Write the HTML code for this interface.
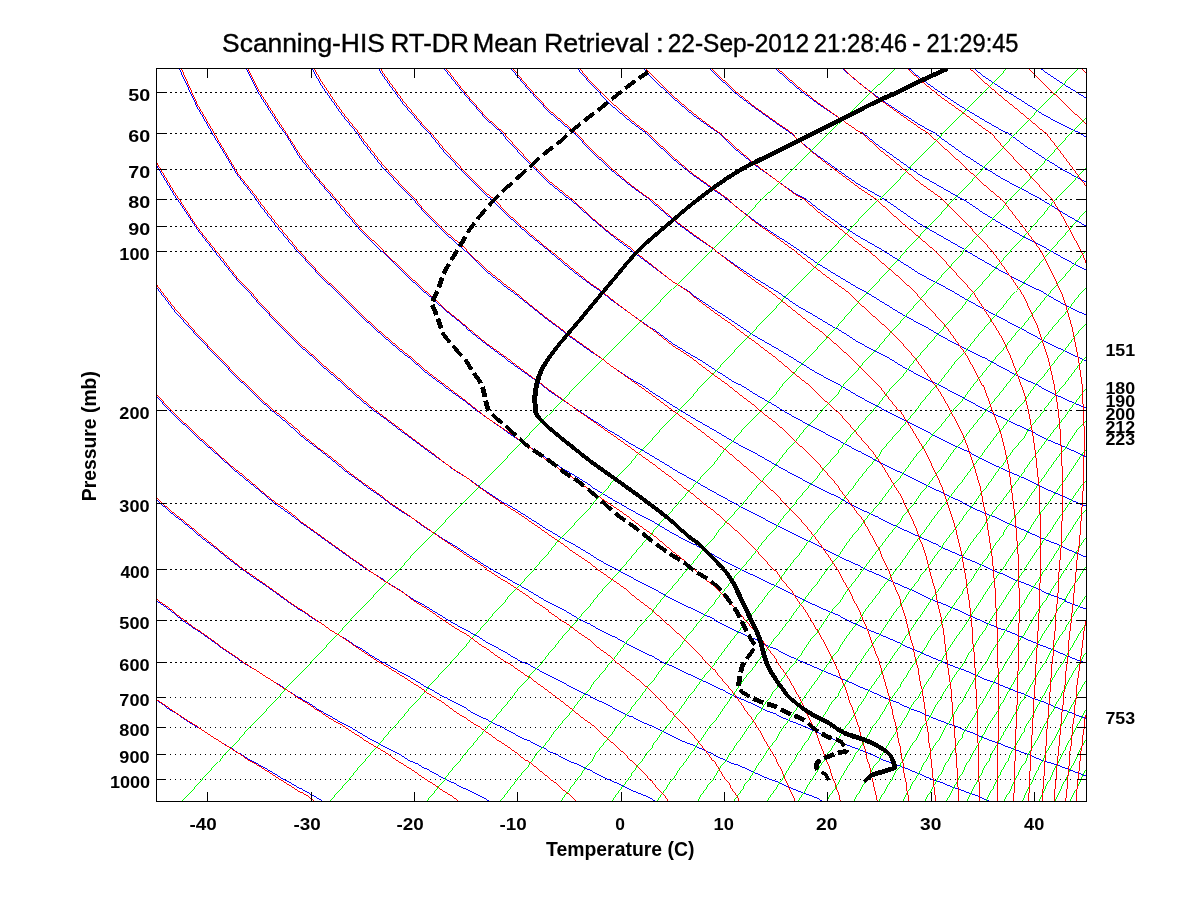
<!DOCTYPE html>
<html lang="en"><head><meta charset="utf-8"><title>Scanning-HIS RT-DR Mean Retrieval</title>
<style>html,body{margin:0;padding:0;background:#fff}svg{display:block}text{font-family:"Liberation Sans",Helvetica,Arial,sans-serif;fill:#000}.b{font-weight:bold}.tk{font-weight:bold;font-size:17px}.lb{font-weight:bold;font-size:19.5px}</style></head><body>
<svg width="1200" height="900" viewBox="0 0 1200 900">
<rect width="1200" height="900" fill="#fff"/>
<defs><clipPath id="c"><rect x="156.0" y="68.0" width="931.0" height="734.0"/></clipPath></defs>
<path d="M170 92.5H1075M170 133.5H1075M170 169.5H1075M170 199.5H1075M170 226.5H1075M170 251.5H1075M170 410.5H1075M170 503.5H1075M170 569.5H1075M170 620.5H1075M170 662.5H1075" stroke="#000" stroke-width="1" stroke-dasharray="2 3" fill="none" shape-rendering="crispEdges"/>
<path d="M170 697.5H1075M170 727.5H1075M170 754.5H1075M170 779.5H1075" stroke="#000" stroke-width="1" stroke-dasharray="1 4" fill="none" shape-rendering="crispEdges"/>
<g clip-path="url(#c)" fill="none" shape-rendering="crispEdges" stroke-width="0.995">
<path d="M156.25 700.25l5 3l9 7l6 3l4 3l9 6l8 5l1 0l9 6l9 6l2 1l6 4l9 5l5 4l3 1l9 6l8 4l1 1l8 4l8 5l5 3l3 2l8 4l8 5l1 0l7 4l7 4l7 4l1 1M156.25 600.25l1 1l13 9l6 5l6 5l13 9l2 1l10 7l11 8l1 1l12 8l7 5l4 3l12 7l5 3l6 4l11 7l4 2l7 5l11 7l2 1l9 5l10 7l2 1l9 5l10 6l2 1l8 4l10 6l2 1l8 5l10 5l3 2l6 3l10 5l5 3l4 3l10 4l6 4l3 1l9 5l9 5l9 4l9 5l3 1l6 3l8 4l6 3l3 2M156.25 499.25l4 4l16 14l1 0l17 14l3 3l13 10l8 6l8 7l12 9l4 3l15 11l2 1l13 9l8 6l7 5l13 9l1 0l14 10l6 3l8 6l13 8l1 0l13 9l6 3l7 5l13 8l1 0l12 7l9 5l4 2l12 7l4 3l8 4l12 7l1 0l11 6l10 5l2 2l11 6l7 3l5 3l11 5l5 3l6 3l11 6l4 1l7 4l11 5l2 2l8 3l11 6l2 1l8 3l10 5l3 1l7 4l10 5l3 1l7 3l10 5l4 2l5 2l10 4l6 3l3 2M156.25 396.25l13 14l7 7l15 14l6 6l16 14l5 4l16 15l4 3l17 14l4 3l15 13l6 4l14 10l6 5l13 9l8 6l10 7l11 8l7 5l13 9l4 3l17 10l0 1l17 10l4 3l12 8l8 4l8 5l13 8l3 2l16 9l2 1l13 7l7 5l8 4l13 7l1 1l14 8l6 2l9 5l11 6l2 1l14 7l5 3l8 4l13 6l1 1l13 6l6 3l7 4l12 6l2 0l11 6l10 4l2 1l12 6l6 3l6 3l12 5l3 1l9 4l11 5l1 1l11 5l9 4l2 0l11 5l8 4l3 1l11 5l7 2l4 2l11 5l5 2l5 2l11 4l5 2l5 3M156.25 287.25l4 5l16 21l14 15l7 8l21 22l20 21l7 6l14 14l12 11l9 7l16 14l4 4l21 16l21 17l2 2l18 13l5 4l16 11l6 5l15 10l7 4l13 10l7 4l14 9l7 4l14 9l6 4l14 9l5 3l16 9l3 2l18 10l18 11l2 1l16 8l5 3l12 7l9 4l8 5l12 6l5 2l16 9l16 8l5 2l10 6l10 4l6 3l15 7l15 7l6 3l9 4l11 6l3 1l14 6l4 2l10 5l11 4l3 2l14 6l3 1l10 4l11 5l2 1l14 6l5 2l7 3l13 5l13 5l8 4l4 2l12 4l5 2l8 3l12 5l11 5l10 3l2 1l12 5l7 2l4 2l12 4l4 2l7 3M156.25 165.25l20 33l1 1l20 30l17 22l4 5l20 25l11 11l10 12l21 22l2 2l18 18l14 12l7 7l21 18l2 2l18 16l11 9l10 7l18 14l3 2l20 15l4 3l17 12l9 7l12 7l14 10l6 4l18 12l3 1l21 13l20 13l2 1l19 11l4 2l17 10l4 3l16 9l6 3l15 8l5 3l16 8l4 2l16 9l4 2l17 8l2 1l19 9l0 1l18 9l2 1l16 7l5 2l13 7l8 3l9 5l11 5l7 3l14 6l2 1l17 7l2 1l14 6l6 3l10 4l11 5l4 2l16 6l1 1l14 6l6 2l9 4l12 5l3 1l14 5l4 2l11 4l9 4l5 2l14 5l2 1l11 4l10 4l4 1l13 6l3 1l11 3l10 4l3 1l13 5l5 2M156.25-3.75l13 44l7 22l21 45l15 26l6 10l20 33l18 23l3 5l21 27l17 20l3 3l21 23l16 15l5 5l20 20l12 11l9 8l21 18l6 4l14 13l19 14l2 2l21 15l10 8l10 7l20 14l1 1l21 14l8 5l12 8l17 11l4 2l21 13l2 2l18 11l9 5l12 7l13 7l8 4l17 10l3 2l21 11l1 0l20 11l3 2l17 9l6 3l15 7l8 4l13 6l8 4l12 6l10 5l11 5l9 4l12 5l9 5l11 5l9 4l12 5l7 3l14 6l5 3l15 6l4 2l17 7l2 1l18 7l1 0l16 7l4 2l14 5l7 3l10 4l11 4l6 3l14 5l2 1l17 7l2 0l14 6l7 2M218.25 3.25l15 37l5 13l21 41l21 33l5 6l15 25l21 26l13 15l8 10l20 23l19 19l2 1l21 21l20 19l1 0l20 18l21 17l0 1l20 16l19 14l2 2l21 15l14 10l6 5l21 14l9 6l12 8l20 13l1 0l20 13l13 7l8 5l20 12l3 2l18 10l12 7l9 5l20 11l21 11l6 3l15 8l12 6l8 4l19 9l2 1l21 11l2 1l18 8l7 4l14 6l10 5l11 5l12 5l8 4l15 7l6 2l17 7l4 2l18 8l2 1l19 8l2 0l19 8l2 1l19 8l1 0l19 8l2 1l18 7l3 1M280.25 6.25l17 34l3 7l21 38l21 30l15 18l5 8l21 27l21 22l9 9l11 13l21 21l20 18l1 0l20 20l21 17l6 4l15 12l20 16l11 8l10 8l21 15l11 7l9 7l21 14l11 6l10 7l20 13l8 5l13 8l21 12l2 1l18 11l17 9l4 2l21 12l9 5l11 6l21 11l21 10l10 6l10 5l20 9l1 1l21 10l7 3l13 6l16 7l5 3l21 9l1 1l19 8l8 4l13 5l12 6l9 3l17 7l3 2l21 8l0 1l21 8M321.25-33.75l21 43l20 31l0 1l21 35l21 29l20 23l5 5l16 20l21 22l20 20l5 4l16 16l21 19l20 16l1 1l20 17l21 16l12 8l8 7l21 15l20 14l1 0l20 15l21 13l4 2l17 11l20 13l7 3l14 9l21 12l6 4l14 8l21 11l4 2l17 9l20 11l1 0l20 11l16 8l5 2l20 10l10 5l11 5l21 10l1 1l19 9l13 5l8 4l21 9l2 1l18 8l13 5l8 4l21 9M383.25-24.75l21 35l20 28l2 2l19 30l21 26l20 23l16 14l5 7l21 22l20 20l21 17l1 0l20 18l20 17l21 16l1 1l20 15l20 15l18 11l3 3l21 14l20 13l9 6l12 8l21 12l17 10l3 2l21 13l21 11l2 1l18 11l21 11l5 3l16 8l20 10l6 3l15 8l21 10l5 2l15 8l21 10l2 1l19 8l18 9l2 1l21 9l13 6l8 3M445.25-17.75l21 30l20 24l4 4l17 24l21 25l20 22l21 18l5 4l16 17l20 19l21 17l18 13l3 3l20 17l21 16l21 14l2 2l18 13l21 14l21 13l2 1l18 13l21 12l18 11l3 1l20 13l21 11l10 5l11 7l20 11l19 9l2 1l21 11l20 11l4 2l17 8l21 10l7 3l13 7l21 9l9 4l12 6M507.25-12.75l21 26l20 21l7 6l14 19l21 24l20 21l21 18l15 11l6 6l20 19l21 17l21 15l13 9l7 6l21 16l21 14l20 13l4 3l17 12l21 13l20 12l8 4l13 8l21 13l20 11l8 4l13 8l21 11l20 10l3 1l18 10l21 11l14 6l6 4l21 10l21 9M569.25-9.75l21 23l20 20l9 7l12 15l21 23l20 19l21 18l21 15l5 3l15 15l21 17l21 15l20 14l10 5l11 9l21 15l20 13l21 12l5 3l16 10l20 13l21 11l13 7l8 5l20 11l21 11l17 9l4 2l20 11l21 10l15 7l6 3M631.25-6.75l21 21l20 18l12 8l9 11l21 22l20 19l21 16l21 15l15 10l5 5l21 17l21 15l20 14l21 12l5 3l16 11l20 14l21 12l21 12l5 3l15 9l21 12l21 11l19 9l1 1l21 12l21 10M693.25-3.75l21 18l20 17l14 9l7 8l21 21l20 18l21 16l21 14l20 14l5 2l16 13l21 15l20 14l21 12l21 12l1 0l19 13l21 13l21 12l20 10l7 4l14 8l21 11M755.25-1.75l21 17l20 15l16 10l5 5l21 20l20 17l21 16l21 14l20 13l15 8l6 5l21 15l20 13l21 13l21 11l17 9l3 2l21 13l21 12M817.25-0.75l21 16l20 14l19 11l2 3l21 18l20 17l21 15l21 14l20 12l21 12l5 2l16 12l20 13l21 13l21 11M879.25 1.25l21 14l20 14l21 11l21 18l20 17l21 14l21 13l20 13l21 11l15 7l6 4M941.25 2.25l21 14l20 12l21 11l2 1l19 16l20 15l21 14l21 13M1003.25 3.25l21 13l20 12l21 10l5 2l16 13M1065.25 4.25l21 12" stroke="#00f"/>
<path d="M962.25 1.25l-21 21l-18 18l-3 4l-20 20l-21 20l-21 20l-20 20l-10 9l-11 12l-21 20l-20 21l-15 13l-6 7l-21 21l-20 20l-4 4l-17 17l-21 21l-4 3l-16 18l-19 18l-2 3l-21 20l-7 7l-13 14l-14 13l-7 8l-16 17l-5 5l-17 16l-3 5l-16 15l-5 6l-13 13l-8 8l-8 9l-12 13l-4 3l-14 14l-3 4l-10 10l-11 12l-2 1l-12 13l-6 7l-5 5l-11 11l-5 6l-5 4l-9 11l-7 6l-3 3l-9 10l-8 9l-8 8l-8 9l-5 5l-3 3l-7 8l-7 7l-4 4l-3 3l-7 7l-6 7l-4 5l-2 2l-6 6l-6 7l-6 6l-1 1l-4 5l-6 5l-5 6l-5 6l-1 1l-4 4l-5 5l-5 5l-4 6l-2 2l-3 2l-4 5l-5 5l-4 5l-4 4l-1 1l-3 4l-4 4l-4 4l-4 5M1086.25-11.75l-21 20l-21 21l-11 11l-9 10l-21 22l-21 21l-20 21l-20 19l-1 2l-21 21l-20 22l-21 21l-1 0l-20 21l-20 22l-9 9l-12 13l-21 21l-7 7l-13 15l-20 21l-1 1l-21 22l-7 7l-13 15l-13 12l-8 10l-14 15l-7 7l-13 14l-7 8l-12 12l-9 11l-8 8l-13 14l-2 3l-15 16l-3 4l-10 10l-11 13l-2 1l-12 13l-7 9l-4 4l-10 12l-6 6l-4 5l-10 10l-7 8l-2 3l-9 9l-8 10l-2 2l-6 7l-8 8l-6 8l-1 1l-7 8l-7 8l-6 6l-1 1l-6 7l-7 7l-5 7l-2 2l-4 5l-6 6l-6 7l-4 5l-1 1l-5 6l-5 5l-5 6l-5 6l-4 5l-5 5l-4 5l-5 6l-3 3l-1 1l-4 5l-4 5l-4 5l-4 4l-3 4l-1 1l-4 4l-3 4l-4 5M1086.25 60.25l-21 22l-21 21l-20 22l-9 8l-12 14l-21 22l-20 22l-9 8l-12 14l-21 22l-15 16l-5 6l-21 23l-12 12l-9 10l-20 23l-3 3l-18 20l-10 10l-11 12l-14 15l-6 8l-15 17l-6 6l-14 15l-7 8l-11 12l-9 12l-7 7l-14 16l-1 1l-14 16l-6 7l-7 7l-12 14l-1 2l-10 11l-11 13l-10 12l-10 11l-1 1l-8 9l-9 11l-3 4l-5 5l-8 10l-8 9l-7 8l-7 9l-7 8l-6 8l-7 7l-6 7l-1 2l-5 5l-6 7l-5 7l-5 6l-6 7l-5 6l-5 6l-4 5l-1 1l-4 5l-5 6l-4 5l-5 5l-2 4l-2 1l-4 6l-4 4l-4 5l-4 5l-3 4l0 1l-4 4l-4 5l-3 4l-4 4l-3 5M1086.25 117.25l-16 16l-5 6l-21 23l-20 23l-15 14l-6 8l-21 23l-19 21l-1 2l-21 23l-15 16l-6 7l-20 23l-6 6l-15 18l-12 12l-9 11l-15 16l-5 8l-16 17l-5 6l-14 15l-7 9l-10 11l-10 13l-5 6l-15 17l-1 1l-12 15l-9 10l-4 4l-12 14l-4 6l-7 7l-10 13l-4 5l-6 7l-9 11l-6 7l-3 3l-9 11l-7 9l-1 2l-7 8l-8 9l-6 8l-1 0l-7 9l-6 8l-6 8l-1 0l-5 7l-6 7l-6 7l-3 5l-2 2l-6 7l-5 6l-5 7l-3 4l-2 2l-5 6l-4 5l-5 6l-4 6l-1 1l-3 4l-5 5l-4 5l-4 6l-3 4l-1 2l-3 3l-4 5l-4 5l-3 4l-4 5l-3 4l-3 4l-4 5M1086.25 167.25l-21 23l-10 9l-11 14l-20 23l-14 15l-7 8l-21 24l-9 9l-11 15l-19 21l-2 2l-21 24l-4 4l-16 21l-7 6l-14 18l-6 7l-15 17l-4 4l-16 20l0 1l-16 18l-5 7l-9 10l-12 14l-1 2l-12 14l-7 10l-4 4l-11 13l-6 8l-4 5l-10 12l-7 8l-2 3l-8 10l-9 11l-1 2l-6 7l-8 10l-7 9l-7 8l-6 9l-7 8l-1 1l-5 7l-6 7l-5 7l-4 6l-2 1l-5 7l-5 7l-5 6l-4 5l-1 2l-5 6l-5 6l-4 5l-4 6l-2 2l-3 4l-4 5l-4 5l-4 5l-3 6l-2 2l-2 2l-4 5l-3 5l-4 5l-3 4l-4 5l-1 2l-2 2l-3 4l-3 5M1086.25 210.25l-21 24l-15 17l-6 7l-20 24l-10 10l-11 14l-19 22l-2 2l-20 25l-4 3l-17 22l-5 5l-16 19l-4 6l-16 19l-2 2l-17 20l-2 4l-13 15l-8 10l-5 7l-13 16l-2 3l-10 11l-11 14l-11 13l-9 13l-1 0l-9 12l-8 11l-3 4l-6 6l-8 11l-7 9l-8 10l-7 9l-6 8l-7 9l-6 8l-6 8l-1 2l-4 5l-6 7l-5 7l-5 7l-1 1l-5 6l-4 6l-5 7l-5 6l-2 3l-2 3l-4 5l-5 6l-4 6l-4 5l-1 3l-2 2l-4 5l-4 6l-4 4l-3 5l-4 5l0 1l-3 4l-3 4l-4 5l-3 4l-3 4l-3 5M1086.25 250.25l-1 1l-20 24l-15 17l-6 7l-20 25l-4 4l-17 21l-8 9l-13 16l-9 11l-11 15l-9 10l-12 15l-6 6l-15 20l-1 0l-14 19l-5 7l-9 10l-12 16l-12 14l-9 12l-2 2l-10 13l-8 12l-1 1l-10 12l-8 11l-2 3l-6 7l-8 11l-7 9l-7 10l-7 9l-6 8l-1 0l-6 9l-6 8l-6 8l-2 3l-3 4l-6 7l-5 7l-5 7l-2 3l-3 4l-4 6l-5 7l-4 6l-4 6l-1 0l-4 5l-4 6l-4 6l-4 5l-3 5l-1 1l-3 4l-4 6l-3 4l-4 5l-3 5l-3 5l-1 0l-3 4l-3 5l-3 4l-3 4l-3 5M1086.25 288.25l-5 4l-16 21l-13 15l-8 10l-17 20l-3 5l-18 22l-3 4l-17 21l-4 5l-13 16l-7 10l-9 10l-12 17l-2 2l-13 17l-6 7l-6 9l-12 14l-2 4l-8 10l-10 13l-3 4l-7 9l-9 12l-5 7l-3 4l-8 10l-7 11l-2 2l-6 7l-7 10l-6 9l-2 3l-5 5l-6 9l-5 8l-5 6l-1 2l-6 7l-5 7l-5 7l-3 6l-2 1l-4 7l-5 6l-4 7l-5 6l-1 2l-3 4l-4 5l-4 6l-4 6l-4 5l-2 3l-1 2l-4 5l-3 6l-4 4l-3 5l-3 5l-2 3l-1 2l-4 4l-3 5l-3 4l-3 4l-2 5M1086.25 323.25l-5 5l-16 21l-8 9l-13 17l-9 10l-11 16l-8 9l-13 17l-4 4l-15 20l-2 3l-12 16l-8 11l-5 6l-12 16l-4 5l-7 9l-10 14l-4 5l-6 8l-9 13l-5 7l-4 5l-8 11l-8 10l-1 2l-7 9l-7 9l-6 10l-1 1l-6 8l-6 8l-6 9l-2 4l-4 4l-5 8l-5 7l-5 7l-2 3l-3 4l-5 7l-5 7l-4 6l-4 6l-1 1l-4 6l-4 6l-4 5l-4 6l-3 6l-4 5l-4 5l-3 5l-4 6l-3 4l-3 5l-3 5l-3 5l-4 4l-2 5l-3 4l-3 4l-3 4l0 1M1086.25 356.25l-2 2l-19 25l-2 2l-19 24l0 1l-17 21l-3 6l-12 14l-9 13l-5 6l-12 17l-4 4l-8 12l-11 14l-1 2l-9 12l-10 13l-2 4l-7 9l-8 12l-6 7l-2 4l-8 10l-7 11l-3 4l-4 5l-7 10l-6 9l-4 6l-2 2l-6 9l-6 8l-5 8l-2 2l-3 5l-5 7l-5 7l-5 7l-2 5l-2 2l-5 6l-4 7l-4 6l-4 6l-2 3l-2 2l-4 6l-3 6l-4 5l-3 5l-4 5l-1 2l-2 4l-3 4l-3 5l-3 5l-3 5l-3 4l-3 5l-3 4l-3 4l-3 5M1086.25 388.25l-17 22l-4 6l-12 15l-9 12l-6 8l-14 19l0 1l-12 16l-9 12l-3 4l-11 14l-7 11l-2 3l-10 13l-8 13l-1 0l-8 12l-8 11l-4 6l-3 4l-8 11l-6 9l-4 6l-3 4l-6 9l-6 8l-5 9l-6 8l-5 8l-5 7l-5 7l-5 7l-5 7l-4 7l-4 6l-3 4l-1 3l-4 6l-4 6l-4 5l-4 6l-3 6l-4 5l-3 5l-4 5l-3 6l-3 4l-3 5l-1 2l-2 3l-3 5l-3 4l-3 5l-2 4l-3 4l-3 5M1086.25 420.25l-10 11l-11 17l-3 3l-14 19l-4 6l-8 11l-11 16l-1 2l-10 12l-10 14l-1 3l-8 10l-8 13l-5 6l-4 6l-7 11l-8 10l-1 3l-6 8l-6 9l-7 10l-2 4l-4 5l-6 8l-5 9l-5 8l-1 0l-5 8l-5 7l-4 7l-5 7l-1 3l-3 4l-5 7l-4 6l-4 7l-4 6l-1 2l-3 4l-4 5l-3 6l-4 6l-3 5l-3 5l-1 1l-3 4l-3 6l-3 4l-3 5l-3 5l-3 5l-2 4l-3 5l-3 4l-3 4l-2 5M1086.25 450.25l-2 1l-13 19l-6 9l-6 8l-11 16l-4 5l-7 9l-9 14l-4 7l-5 6l-9 13l-7 11l-1 1l-8 11l-7 10l-5 8l-2 3l-6 9l-6 10l-6 9l-6 8l-6 9l-5 8l-4 7l-1 1l-5 7l-4 7l-5 7l-4 7l-2 3l-2 4l-5 6l-4 7l-3 6l-4 6l-2 4l-2 1l-3 6l-4 6l-3 5l-3 5l-3 5l-3 5l0 1l-4 4l-3 5l-2 5l-3 5l-3 4l-3 5l-2 4l-1 1l-2 3l-2 5M1086.25 480.25l-6 7l-11 16l-4 6l-6 8l-9 14l-6 8l-3 5l-9 13l-8 12l0 1l-7 10l-7 10l-7 11l-6 9l-7 10l-5 9l-3 4l-3 4l-5 9l-6 8l-4 8l-2 3l-3 4l-5 7l-4 7l-5 7l-4 7l0 1l-4 5l-4 7l-3 6l-4 6l-4 5l-2 4l-1 2l-3 6l-4 5l-3 5l-3 5l-3 6l-3 4l0 2l-3 3l-3 5l-2 5l-3 4l-3 5l-2 4l-3 4l-2 5M1086.25 509.25l-7 8l-9 14l-5 8l-4 5l-8 13l-8 12l-1 1l-6 10l-7 10l-7 11l0 1l-6 8l-6 10l-6 9l-3 5l-2 3l-6 9l-5 8l-4 8l-4 5l-1 2l-5 7l-4 7l-4 7l-4 7l-2 4l-2 2l-4 7l-4 6l-3 6l-4 5l-3 6l-1 2l-2 4l-4 5l-3 5l-3 5l-3 6l-3 4l-2 5l-1 1l-2 4l-3 5l-3 4l-2 5l-3 4l-2 4l-2 5M1086.25 537.25l-5 7l-8 13l-8 12l-7 11l-7 10l-6 11l-1 0l-6 9l-6 10l-5 9l-3 5l-3 3l-5 9l-5 8l-5 8l-3 5l-1 2l-5 7l-4 7l-4 7l-4 7l-3 5l-1 1l-4 7l-3 6l-4 6l-3 5l-4 6l-1 4l-2 2l-3 5l-3 5l-3 5l-3 6l-3 4l-2 5l-2 4l-1 1l-3 5l-2 4l-3 5l-2 4l-3 4l-2 5M1086.25 566.25l-2 3l-7 11l-7 10l-5 9l-1 2l-7 9l-5 10l-6 9l-2 3l-3 5l-5 9l-5 8l-5 8l-2 4l-2 3l-5 7l-4 7l-4 7l-4 7l-2 4l-2 2l-3 7l-4 6l-4 6l-3 5l-3 6l-2 3l-1 3l-3 5l-3 5l-3 5l-3 6l-3 4l-2 5l-2 4l-1 1l-3 5l-2 4l-3 5l-2 4l-2 4l-3 5M1086.25 595.25l-4 6l-6 9l-6 10l-5 8l0 1l-6 8l-5 9l-5 8l-4 8l-1 1l-4 6l-4 7l-4 7l-4 7l-4 7l0 1l-4 5l-3 7l-4 6l-3 6l-3 5l-4 6l0 1l-3 5l-3 5l-3 5l-3 5l-2 6l-3 4l-3 5l-1 3l-1 2l-3 5l-2 4l-3 5l-2 4l-2 4l-2 5M1086.25 623.25l-4 6l-5 8l-5 9l-5 8l-2 4l-2 4l-5 7l-4 7l-4 7l-4 7l-2 4l-2 3l-3 6l-4 7l-3 6l-4 6l-3 5l-1 4l-2 2l-3 6l-3 5l-3 5l-3 5l-2 6l-3 4l-2 4l-1 1l-2 5l-3 5l-2 4l-2 5l-3 4l-2 4l-2 5M1086.25 652.25l-2 2l-4 8l-5 7l-4 7l-4 7l-2 5l-2 2l-3 7l-4 6l-3 7l-4 6l-3 6l-2 3l-1 2l-3 6l-3 6l-3 5l-3 5l-3 5l-2 6l-2 4l-1 0l-3 5l-2 5l-3 5l-2 4l-2 5l-2 4l-3 4l-2 5M1086.25 680.25l-2 3l-4 7l-4 7l-3 6l-4 7l-3 6l-1 2l-2 4l-3 5l-3 6l-3 6l-3 5l-3 5l-3 5l-1 3l-1 3l-3 4l-2 5l-3 5l-2 5l-2 4l-3 5l-2 4l-2 4l0 1l-2 4M1086.25 709.25l-1 1l-3 6l-3 6l-3 5l-3 6l-3 6l-3 5l-2 5l-3 5l-3 6l-2 4l-3 5l-2 5l-2 5l-3 4l-2 5l-1 2l-1 2l-2 4l-2 5M1086.25 739.25l-3 5l-3 5l-2 5l-3 6l-2 4l-3 5l-2 5l-2 5l-1 1l-2 3l-2 5l-2 4l-2 4l-2 5M1086.25 769.25l-3 5l-2 5l-2 4l-2 5l-3 4l-2 4l-2 5" stroke="#0f0"/>
<path d="M156.25 699.25l6 4l10 7l4 3l5 3l9 6l7 4l1 1l9 6l9 6l2 1l6 4l8 5l6 4l2 1l8 6l8 4l3 2l5 3l8 5l7 5l1 0l6 4l8 5l6 4l1 0l7 4l6 5M156.25 598.25l3 3l13 9l4 4l8 6l12 9l1 0l11 8l10 7l2 2l12 8l6 4l5 4l11 7l5 3l6 4l11 7l4 3l7 4l10 7l3 2l7 4l10 7l4 2l5 4l10 6l6 3l3 2l9 6l8 5l1 1l8 5l9 5l3 2l5 3l8 6l7 4l1 1l7 4l7 5l6 4l1 1l7 4l7 5l6 4l7 4l6 5M156.25 497.25l6 6l14 12l3 2l17 14l1 1l15 12l6 5l10 8l10 8l5 4l16 11l14 10l7 5l8 6l12 8l2 1l14 10l5 3l8 6l13 8l13 9l7 5l5 3l12 8l4 2l8 5l11 7l2 1l9 6l11 7l0 1l10 6l10 6l1 1l8 6l9 6l4 2l5 4l9 5l6 5l2 1l8 6l8 5l3 2l4 3l7 5l7 6l3 1l4 3l6 5l6 5l4 3l2 2l6 4l5 5l5 4l3 2l2 2l5 5M156.25 394.25l15 16l5 5l17 16l4 4l18 16l3 3l18 16l2 1l19 16l2 2l17 14l4 2l16 12l4 4l14 10l7 5l11 8l10 7l8 6l12 8l5 4l16 11l16 10l5 3l10 8l10 6l5 3l14 10l2 1l12 8l9 5l4 3l12 9l4 2l8 6l12 8l1 0l10 7l10 7l1 0l9 7l10 7l1 1l8 6l8 6l5 4l4 3l7 6l8 6l2 1l5 4l6 6l7 6l2 2l4 3l5 5l6 5l5 6l1 0l4 4l5 5l5 5l4 5l3 2l1 2l4 5l4 4l4 4l3 5M156.25 284.25l6 8l14 18l16 18l5 6l21 22l2 2l18 19l9 8l12 12l14 13l7 5l19 16l1 2l21 17l2 1l19 15l4 4l16 12l7 5l14 10l7 6l14 9l7 5l13 9l7 5l14 10l5 3l16 11l3 2l17 11l0 1l17 11l4 2l12 8l9 6l6 5l14 9l0 1l13 9l8 5l5 4l11 8l5 3l6 6l11 8l3 2l6 6l9 7l6 5l3 2l8 7l8 7l2 2l5 5l6 6l6 7l3 2l3 4l6 6l5 5l5 6l2 2l3 4l4 5l4 5l4 5l4 6l2 1l2 3l3 5l3 5l3 5l4 4l2 5l3 4l3 4l2 5M156.25 162.25l20 33l3 4l18 28l19 24l2 2l20 26l13 13l8 10l21 22l4 4l16 16l16 14l5 5l21 18l4 4l16 14l13 11l8 6l20 15l1 1l20 15l6 4l15 12l10 7l11 7l13 10l7 5l16 11l5 3l17 11l4 3l16 11l4 3l15 10l6 5l12 8l9 6l7 6l13 9l3 2l14 10l4 4l9 7l12 9l11 10l9 8l1 1l9 8l9 9l2 2l6 6l7 8l7 7l1 0l5 7l6 7l6 7l3 4l2 3l5 6l4 7l5 6l4 6l1 1l2 4l4 6l3 6l3 5l3 5l3 5l3 5l0 1l2 4l3 5l2 5l2 5l2 4l2 5l2 4l2 4l2 5M156.25-9.75l14 50l6 17l21 47l17 29l4 7l20 34l20 25l1 2l21 27l19 23l1 1l21 23l18 17l3 3l20 20l14 13l7 6l21 18l8 6l12 11l21 16l21 16l11 9l9 7l21 14l21 15l7 5l13 10l13 9l8 5l17 12l4 3l18 13l2 1l19 13l2 2l16 12l5 3l12 10l8 7l8 6l13 11l1 1l12 11l8 6l4 4l10 11l6 6l3 3l8 10l8 9l2 2l5 6l6 9l6 8l4 5l1 3l5 7l5 7l4 7l4 7l1 2l3 5l3 6l3 7l3 6l3 6l2 5l3 6l1 2l1 4l2 5l2 5l2 5l2 6l2 4l2 5l1 5l2 5l2 4l1 5l2 4l1 4l1 5M218.25-1.75l17 42l3 9l21 42l21 33l6 9l14 22l21 27l15 17l6 7l20 24l21 20l0 1l21 20l20 19l3 2l18 17l21 17l2 2l18 15l21 15l21 16l15 11l5 4l21 15l8 6l13 9l17 12l3 2l21 15l4 3l17 12l9 7l11 8l11 9l10 7l10 9l11 8l7 6l13 12l3 2l13 13l5 5l7 8l11 12l3 2l6 9l9 10l5 8l2 3l7 9l6 10l5 9l1 0l4 8l5 9l4 8l4 8l3 7l1 1l2 6l3 7l3 7l2 7l2 6l3 7l2 6l2 6l1 4l1 1l1 6l2 6l1 5l2 5l1 5l1 6l2 4l1 5l1 5l1 5l1 4l1 5l1 4l1 4l1 5M280.25 3.25l19 37l1 3l21 38l21 31l17 21l3 5l21 27l21 23l11 11l9 11l21 21l21 18l1 2l19 18l21 17l8 6l13 11l20 16l12 9l9 7l21 15l11 8l9 7l21 15l7 5l14 10l20 15l21 15l8 6l13 10l13 10l7 6l15 13l6 5l13 12l8 7l8 9l12 12l2 2l12 14l7 9l3 4l9 13l8 12l1 1l5 10l6 10l5 11l4 7l1 2l4 10l4 9l3 8l3 9l3 8l3 7l0 1l2 7l2 7l2 7l2 7l2 7l1 6l2 7l1 6l2 6l1 5l1 6l1 6l1 5l1 2l0 3l1 5l1 6l1 4l0 5l1 5l1 5l1 4l0 5l1 4l1 4l0 5M342.25 6.25l20 33l2 1l19 33l21 29l20 24l7 7l14 17l21 23l20 20l8 6l13 14l21 19l20 17l3 2l18 15l21 17l13 9l7 6l21 16l19 14l2 1l20 16l20 13l1 1l21 16l14 10l6 5l21 16l4 4l17 13l9 8l11 11l10 9l11 11l7 8l14 16l0 1l12 16l8 11l3 3l8 14l7 13l3 5l3 8l6 12l4 11l4 10l4 9l0 2l3 9l3 10l2 9l2 8l3 9l1 8l2 8l2 7l1 7l1 6l0 1l2 7l1 7l1 6l1 7l0 6l1 6l1 5l1 6l0 6l1 5l1 5l0 5l1 6l0 4l1 5l0 5l1 5l0 4l1 5l0 4l1 4l0 5M404.25 8.25l20 28l4 4l17 27l21 27l20 23l18 16l3 4l21 23l20 20l21 17l3 2l18 17l20 17l21 15l3 3l18 14l20 16l17 11l4 4l21 16l20 14l2 2l19 14l21 16l20 17l13 10l8 8l18 17l3 2l17 19l3 4l14 16l7 10l6 9l10 17l5 7l4 9l7 14l6 14l3 9l2 4l4 13l3 12l3 11l3 10l2 11l2 9l2 8l0 2l2 9l1 8l1 9l1 8l1 8l1 7l1 7l1 7l1 7l0 7l1 6l0 7l1 6l0 6l1 5l0 6l1 6l0 5l0 5l1 5l0 6l0 4l1 5l0 5l0 5l0 4l1 5l0 4l0 4l0 5M445.25-20.75l21 30l20 25l7 6l14 21l21 26l20 22l21 18l7 6l14 15l20 19l21 18l19 14l2 1l20 18l21 16l21 15l2 2l18 14l21 16l16 11l5 4l20 16l20 16l1 0l21 18l13 12l7 7l20 20l1 1l19 24l2 1l13 20l7 12l5 8l9 19l7 15l1 2l5 16l5 14l4 14l3 13l3 12l0 1l2 12l2 11l1 10l2 11l1 9l1 10l1 9l0 8l1 9l1 8l0 8l1 7l0 7l0 7l1 7l0 7l0 6l1 7l0 6l0 6l0 5l0 6l0 6l1 5l0 5l0 5l0 6l0 4l0 5l0 5l0 5l1 4l0 5l0 4l0 4l0 5M507.25-15.75l21 26l20 22l9 8l12 16l21 25l20 20l21 19l17 13l4 4l20 19l21 18l21 15l14 10l6 6l21 17l21 15l19 14l1 1l21 17l21 16l10 7l10 10l21 19l8 7l13 13l15 17l5 7l15 20l6 9l9 16l11 21l1 2l7 18l6 19l5 17l2 10l1 6l3 14l2 14l2 13l2 13l1 12l1 11l1 10l0 11l1 9l0 10l1 9l0 8l0 9l0 8l0 8l1 7l0 7l0 7l0 7l0 7l0 6l0 7l0 6l0 6l0 5l0 6l0 6l-1 5l0 5l0 5l0 6l0 4l0 5l0 5l0 5l0 4l0 5l0 4l0 4l0 5M569.25-11.75l21 23l20 20l11 9l10 12l21 23l20 20l21 18l21 16l6 4l14 13l21 18l21 16l20 15l8 4l13 12l21 16l20 16l11 8l10 9l21 18l15 14l5 6l21 23l6 7l15 21l6 9l14 27l1 0l9 25l8 21l3 12l2 8l4 19l2 17l2 16l2 14l1 14l1 13l1 13l0 12l0 11l1 10l0 11l0 9l0 10l-1 9l0 8l0 9l0 8l0 8l0 7l-1 7l0 7l0 7l0 7l0 6l-1 7l0 6l0 6l0 5l-1 6l0 6l0 5l0 5l0 5l0 6l-1 4l0 5l0 5l0 5l0 4l0 5l0 4l-1 4l0 5M631.25-8.75l21 21l20 18l14 10l7 9l21 22l20 19l21 17l21 15l16 11l4 5l21 18l21 16l20 15l18 12l3 3l21 19l20 17l15 13l6 6l21 23l11 12l9 14l14 22l7 12l8 18l10 27l3 8l4 17l4 21l3 20l2 19l2 17l0 16l1 14l0 14l0 13l0 13l0 12l0 11l-1 10l0 11l0 9l-1 10l0 9l-1 8l0 9l-1 8l0 8l-1 7l0 7l0 7l-1 7l0 7l-1 6l0 7l0 6l-1 6l0 5l0 6l-1 6l0 5l0 5l-1 5l0 6l0 4l0 5l-1 5l0 5l0 4l0 5l0 4l-1 4l0 5M693.25-5.75l21 18l20 17l16 11l5 6l21 21l20 18l21 17l21 15l20 14l4 2l17 16l21 17l20 17l21 15l1 1l20 20l20 21l10 11l11 15l18 26l3 5l14 31l6 19l4 11l6 27l4 25l2 21l1 20l1 19l0 17l0 16l0 14l-1 14l0 13l-1 13l-1 12l-1 11l0 10l-1 11l-1 9l-1 10l0 9l-1 8l-1 9l0 8l-1 8l-1 7l0 7l-1 7l0 7l-1 7l0 6l-1 7l0 6l-1 6l0 5l-1 6l0 6l0 5l-1 5l0 5l0 6l-1 4l0 2l0 3l0 5l-1 5l0 4l0 5l-1 4l0 4l0 5M755.25-3.75l21 17l20 15l18 12l3 3l21 21l20 18l21 17l21 15l20 14l8 5l13 12l21 19l20 19l19 16l2 2l21 27l17 23l3 6l17 35l4 11l7 25l6 30l4 27l1 25l1 21l0 20l-1 19l0 17l-1 16l-1 14l-1 14l-1 13l-2 13l-1 12l-1 11l-1 10l-1 11l-1 9l-1 10l-1 9l-1 8l-1 9l0 8l-1 8l-1 7l-1 7l0 7l-1 7l-1 7l0 6l-1 7l-1 6l0 6l-1 5l0 6l-1 6l0 5l-1 5l0 5l-1 6l0 4l-1 5l0 5l0 5l-1 4l0 5l-1 4l0 4l0 5M1086.25 620.25l-2 9l-1 8l-1 9l-1 8l-1 8l-1 7l-1 7l-1 7l-1 7l0 7l-1 6l-1 7l0 6l-1 6l-1 5l0 6l-1 6l0 5l-1 5l-1 5l0 6l0 4l-1 5l0 5l-1 5l0 4l0 5l-1 4l0 4l-1 5M817.25-1.75l21 16l20 14l20 12l1 2l21 20l20 18l21 17l21 15l20 15l9 6l12 14l21 22l20 22l8 8l13 22l16 30l5 12M1086.25 714.25l-1 2l-1 6l0 5l-1 6l-1 6l0 5l-1 5l-1 5l0 6l-1 4l0 5l-1 5l0 5l-1 4l0 5l-1 4l0 4l0 5M879.25 0.25l21 15l20 13l20 12l1 1l21 20l20 19l21 18l21 17l20 17l2 1l19 25l21 28M941.25 2.25l21 14l20 14l18 10l3 3l21 21l20 20l21 20l21 20M1003.25 5.25l21 14l20 13l13 8l8 9l21 24M1044.25-4.75l21 15l21 14" stroke="#f00"/>
</g>
<g clip-path="url(#c)" fill="none" stroke="#000" stroke-linejoin="round" shape-rendering="crispEdges">
<path stroke-width="3.6" d="M646.4 242.9L644.2 244.9 642.1 247.0 639.9 249.1 637.8 251.2 635.7 253.3 633.7 255.5 633.0 256.3 632.4 257.0M542.0 421.3L544.2 423.4 546.5 425.5 547.9 426.8 548.7 427.5M678.1 526.9L680.3 528.9 682.5 531.0 684.0 532.4 684.7 533.0M701.2 546.1L703.4 548.2 705.5 550.3 707.6 552.5 709.6 554.6 711.7 556.8 713.8 559.0 715.9 561.2 717.9 563.4 720.0 565.5 722.2 567.6 724.2 569.8 724.9 570.5M788.6 696.6L790.8 698.7 791.5 699.3M888.9 753.8L889.6 754.5 890.2 755.2M894.3 767.9L893.6 768.3 892.6 768.7M868.8 777.7L866.6 779.8 864.5 782.0M539.6 157.8L537.4 159.8 535.2 161.9 533.0 163.9 530.8 165.9 529.5 167.1M512.2 182.7L510.0 184.7 507.7 186.7 505.5 188.7 503.3 190.7 502.2 191.8M498.5 195.5L496.4 197.6 494.4 199.8 492.3 202.0 490.3 204.2 489.1 205.5M505.8 426.1L508.0 428.2 510.2 430.2 512.5 432.2 514.7 434.2 515.8 435.3M711.0 581.2L713.3 583.0 715.6 585.0 717.8 587.1 719.9 589.2 720.9 590.3M821.2 772.3L824.1 773.6 826.3 775.4 827.7 778.0 828.6 780.2"/>
<path stroke-width="3.8" d="M692.3 203.9L689.9 205.8 687.6 207.7 685.3 209.6 683.0 211.6 680.7 213.5 678.4 215.4 676.1 217.4 673.8 219.3 671.6 221.3 669.3 223.3 667.0 225.2 664.7 227.1 662.4 229.1 660.1 231.0 657.8 233.0 655.5 234.9 653.2 236.9 650.9 238.9 648.7 240.9 646.4 242.9 645.7 243.6M633.0 256.3L631.0 258.5 629.1 260.8 627.1 263.0 625.2 265.3 623.3 267.7 621.4 270.0 619.4 272.3 617.5 274.7 615.6 277.0 613.7 279.3 611.8 281.6 609.8 283.9 607.9 286.2 605.9 288.5 604.0 290.8 602.0 293.1 600.1 295.4 598.2 297.7 596.3 300.0 594.4 302.3 592.4 304.6 590.5 307.0 588.6 309.3 586.7 311.6 584.8 313.9 582.9 316.3 581.0 318.6 579.1 320.9 577.1 323.2 575.2 325.4 573.2 327.7 571.2 330.0 569.3 332.3 567.3 334.6 565.4 336.9 563.5 339.2 561.5 341.5 559.6 343.8 557.7 346.1 557.1 346.9M540.1 419.1L542.0 421.3 542.7 422.0M547.9 426.8L550.2 428.8 552.5 430.8 554.8 432.7 557.1 434.6 559.4 436.6 561.7 438.4 562.5 439.1M573.5 447.8L575.8 449.7 578.2 451.6 579.0 452.2 579.7 452.8M665.1 515.9L667.4 517.8 669.8 519.7 672.1 521.6 674.4 523.6 676.6 525.5 678.1 526.9 678.9 527.6M684.0 532.4L686.2 534.3 688.5 536.3 689.3 536.9M698.2 543.5L700.5 545.4 701.2 546.1 701.9 546.8M724.2 569.8L725.5 571.3 726.1 572.1M781.3 687.1L781.9 687.9 782.5 688.7M787.3 695.2L788.6 696.6 789.3 697.3M790.8 698.7L793.1 700.6 795.4 702.5 797.7 704.4 800.1 706.3 800.9 707.0M887.4 752.4L888.9 753.8 889.6 754.5M889.6 754.5L890.2 755.2 890.7 756.0M870.2 776.3L868.8 777.7 868.0 778.5M621.6 91.3L619.2 93.2 616.9 95.1 614.6 97.0 612.2 98.9 611.6 99.3M580.6 123.7L578.2 125.6 575.9 127.5 573.6 129.4 571.3 131.3 570.5 132.0M567.0 135.2L564.8 137.2 562.6 139.3 560.4 141.3 558.1 143.2 556.9 144.2M525.8 170.4L523.6 172.5 521.3 174.5 519.1 176.5 516.9 178.5 515.8 179.5M485.8 209.2L483.8 211.5 481.8 213.8 479.9 216.1 478.0 218.4 477.4 219.2M452.9 346.0L454.9 348.2 456.9 350.5 458.9 352.7 460.8 355.0 461.7 355.9M492.1 414.3L494.4 416.4 496.6 418.4 498.9 420.4 501.2 422.3 502.2 423.1M519.4 438.7L521.6 440.7 523.8 442.8 526.1 444.7 528.5 446.5 529.5 447.3M587.9 489.2L590.2 491.2 592.5 493.1 594.8 495.1 597.1 497.0 597.8 497.7M601.6 501.0L603.9 503.0 606.1 504.9 608.3 507.0 610.6 509.0 611.5 509.8M808.1 723.4L810.4 725.4 812.7 727.4 815.0 729.3 817.5 731.0 818.1 731.4"/>
<path stroke-width="4.0" d="M717.9 184.6L715.4 186.3 712.9 188.1 710.5 189.8 708.1 191.6 705.7 193.4 703.3 195.2 700.9 197.1 698.6 198.9 696.2 200.8 693.8 202.7 692.3 203.9 691.5 204.6M557.7 346.1L555.9 348.5 554.0 350.9 552.2 353.3 550.4 355.7 548.7 358.1 548.1 359.0M538.2 416.6L540.1 419.1 540.7 419.9M561.7 438.4L564.1 440.3 566.4 442.2 568.8 444.0 571.1 445.9 573.5 447.8 574.3 448.4M579.0 452.2L581.3 454.1 583.7 455.9 586.0 457.8 588.4 459.6 590.8 461.5 593.2 463.3 595.6 465.0 598.0 466.8 600.5 468.5 602.9 470.3 605.4 472.0 607.8 473.7 610.3 475.5 612.8 477.2 615.2 478.9 617.7 480.7 620.1 482.4 622.5 484.2 625.0 485.9 627.4 487.7 629.9 489.5 632.3 491.2 634.7 493.0 637.2 494.7 639.6 496.5 642.0 498.3 644.4 500.1 646.8 501.9 649.2 503.7 651.6 505.5 654.0 507.3 656.4 509.1 658.8 510.9 661.2 512.8 663.6 514.6 665.1 515.9 665.9 516.5M688.5 536.3L690.9 538.1 693.4 539.9 695.8 541.6 698.2 543.5 699.0 544.1M725.5 571.3L727.3 573.7 728.5 575.4 729.1 576.2M778.8 684.0L780.6 686.4 781.3 687.1 781.9 687.9M781.9 687.9L783.7 690.3 785.4 692.8 787.3 695.2 787.9 695.9M800.1 706.3L802.5 708.2 804.9 709.9 805.7 710.5M832.0 725.1L834.4 726.9 836.8 728.7 837.6 729.3M884.9 750.6L887.4 752.4 888.2 753.1M890.2 755.2L890.7 756.0 891.2 756.9M871.0 775.6L870.2 776.3 869.5 777.0M635.3 80.9L632.9 82.7 630.5 84.4 628.1 86.2 625.7 88.1 625.3 88.4M607.9 102.3L605.6 104.2 603.3 106.1 600.9 108.0 598.6 109.8 598.0 110.3M594.2 113.2L591.8 115.0 589.4 116.8 587.0 118.6 584.7 120.5 584.3 120.8M553.1 147.0L550.7 148.8 548.3 150.6 545.9 152.5 543.6 154.3 543.2 154.7M474.5 222.9L472.7 225.3 470.9 227.8 469.2 230.2 467.5 232.7 467.4 232.9M442.5 332.3L443.9 334.8 445.6 337.2 447.6 339.6 449.6 341.9 449.9 342.3M546.9 459.0L549.4 460.7 551.8 462.5 554.2 464.3 556.5 466.2 556.9 466.5M574.3 478.8L576.8 480.4 579.2 482.2 581.6 484.0 583.9 485.9 584.1 486.0M615.2 513.1L617.6 515.0 619.9 516.9 622.4 518.6 624.8 520.3 625.3 520.6M629.0 523.2L631.4 524.9 633.8 526.7 636.2 528.5 638.6 530.4 639.0 530.7M642.5 533.4L644.9 535.3 647.2 537.2 649.6 539.0 651.9 540.9 652.5 541.4M656.2 544.3L658.7 546.1 661.1 547.8 663.6 549.5 666.1 551.2 666.3 551.3M683.6 562.4L686.0 564.1 688.4 566.0 690.6 567.9 693.0 569.8 693.6 570.3M724.0 593.8L725.9 596.2 727.6 598.7 729.4 601.1 731.1 603.6 731.4 604.0M753.9 648.6L752.2 651.3 750.3 653.9 748.5 656.4 746.6 658.7M740.1 689.7L742.0 692.0 744.5 693.6 747.2 695.1 749.6 696.4M835.6 739.3L838.4 740.2 840.8 741.5 842.7 743.7 844.3 746.2"/>
<path stroke-width="4.2" d="M738.8 170.9L736.3 172.4 733.7 174.0 731.2 175.6 728.6 177.3 726.1 178.9 723.6 180.6 721.2 182.3 718.7 184.0 717.9 184.6 717.0 185.2M548.7 358.1L547.0 360.6 545.4 363.2 544.9 364.0 544.4 364.9M537.0 414.9L538.2 416.6 538.9 417.5M728.5 575.4L730.2 577.9 731.8 580.4 732.3 581.3 732.8 582.1M771.2 672.2L772.8 674.7 774.5 677.2 776.1 679.8 777.7 682.3 778.8 684.0 779.4 684.8M804.9 709.9L807.4 711.6 810.0 713.1 810.8 713.6M829.5 723.5L832.0 725.1 832.8 725.7M836.8 728.7L839.3 730.3 840.2 730.8M879.0 746.8L881.6 748.4 884.1 750.0 884.9 750.6 885.7 751.2M890.7 756.0L891.2 756.9 891.7 757.8M893.6 768.3L892.6 768.7 891.5 769.0M871.8 775.1L871.0 775.6 870.2 776.3M648.0 72.0L645.5 73.7 643.0 75.4 640.6 77.1 638.9 78.3M457.4 250.3L455.8 252.8 454.2 255.3 452.6 257.9 451.2 260.2M465.0 359.7L466.8 362.0 468.5 364.5 470.0 367.1 471.5 369.7M473.7 373.3L475.6 375.7 477.5 378.1 479.2 380.5 480.6 383.1 480.7 383.4M533.2 449.9L535.7 451.6 538.1 453.3 540.6 454.9 543.1 456.6M560.6 469.5L563.0 471.4 565.4 473.1 567.9 474.8 570.4 476.4M670.0 553.8L672.5 555.5 675.1 557.1 677.6 558.7 680.0 560.1M697.3 572.8L699.9 574.3 702.5 575.8 705.1 577.4 707.3 578.7M748.7 634.9L750.1 637.6 751.6 640.2 753.5 642.7 754.7 644.9"/>
<path stroke-width="4.4" d="M918.3 82.0L915.6 83.3 912.9 84.7 910.2 86.0 907.6 87.4 904.9 88.7 902.2 90.0 901.3 90.5 900.4 90.9M873.9 102.9L871.2 104.2 868.5 105.5 865.8 106.9 863.2 108.2 860.5 109.6 857.8 111.0 855.1 112.3 852.4 113.7 849.8 115.1 847.1 116.4 844.4 117.8 841.7 119.1 839.0 120.5 836.3 121.8 833.7 123.2 831.0 124.5 828.3 125.9 825.6 127.2 822.9 128.5 820.2 129.9 817.5 131.2 814.8 132.6 812.2 133.9 809.5 135.3 806.8 136.6 804.1 138.0 801.4 139.3 798.7 140.6 796.0 142.0 793.3 143.3 790.7 144.7 788.0 146.0 785.3 147.4 782.6 148.7 779.9 150.0 777.2 151.4 774.5 152.7 771.8 154.1 769.2 155.4 766.5 156.7 764.6 157.6 763.7 158.1M755.6 162.0L752.9 163.3 750.2 164.6 747.5 166.0 744.9 167.4 742.3 168.9 739.7 170.4 738.8 170.9 738.0 171.4M544.9 364.0L543.4 366.6 542.0 369.3 541.1 371.1 540.7 372.0M536.5 414.0L537.0 414.9 537.6 415.8M732.3 581.3L733.8 583.9 735.1 586.6 736.5 589.3 737.3 591.1 737.8 592.0M742.5 601.9L743.8 604.6 745.2 607.3 746.5 610.0 747.0 610.9M751.5 620.9L752.8 623.6 754.2 626.3 755.1 628.1 755.5 629.0M768.8 667.8L770.2 670.4 771.2 672.2 771.8 673.0M810.0 713.1L812.6 714.6 815.2 716.1 817.9 717.5 820.6 718.9 823.3 720.2 826.0 721.5 828.6 723.0 829.5 723.5 830.3 724.0M839.3 730.3L842.0 731.7 844.7 733.1 845.6 733.5M873.8 743.9L876.4 745.3 879.0 746.8 879.9 747.3M891.2 756.9L892.1 758.7 892.5 759.7M872.6 774.7L871.8 775.1 871.0 775.6M465.3 236.6L463.8 239.2 462.4 241.9 460.9 244.5 459.8 246.5M449.0 263.9L447.5 266.5 446.0 269.1 444.6 271.8 443.7 273.8M734.1 607.6L735.8 610.1 737.4 612.6 738.7 615.3 739.8 617.5M741.7 621.4L743.0 624.1 744.3 626.8 745.7 629.4 746.6 631.2M780.7 709.2L783.4 710.6 786.1 712.1 788.8 713.4 790.8 714.3"/>
<path stroke-width="4.6" d="M947.5 68.8L944.7 69.9 942.0 71.1 939.2 72.4 936.5 73.6 933.8 74.8 931.0 76.1 928.3 77.3 925.6 78.6 922.8 79.8 920.1 81.1 918.3 82.0 917.4 82.4M901.3 90.5L898.6 91.8 895.8 93.0 893.1 94.3 890.3 95.5 887.6 96.6 884.8 97.8 882.1 99.1 879.3 100.3 876.6 101.6 873.9 102.9 873.0 103.3M764.6 157.6L761.9 158.9 759.2 160.2 756.5 161.5 755.6 162.0 754.7 162.4M541.1 371.1L539.9 373.9 539.2 375.7 538.9 376.7M536.0 413.1L536.5 414.0 537.0 414.9M737.3 591.1L738.7 593.8 739.9 596.5 741.2 599.2 742.5 601.9 742.9 602.8M746.5 610.0L747.8 612.7 749.0 615.5 750.2 618.2 751.5 620.9 751.9 621.8M755.1 628.1L756.4 630.8 757.6 633.6 758.7 636.4 759.4 638.2 759.7 639.2M766.1 661.3L767.2 664.1 768.4 666.9 768.8 667.8 769.3 668.7M844.7 733.1L847.4 734.3 850.2 735.3 851.2 735.6M863.6 739.6L866.4 740.7 869.2 741.8 872.0 743.0 873.8 743.9 874.6 744.3M892.1 758.7L893.2 761.6 893.5 762.6M894.6 767.4L894.3 767.9 893.6 768.3M892.6 768.7L891.5 769.0 890.3 769.4M873.5 774.3L872.6 774.7 871.8 775.1M437.3 291.2L436.1 293.9 434.8 296.6 433.6 299.4 432.6 301.2M432.2 304.9L433.3 307.8 434.7 310.6 435.8 313.4 436.4 315.0M753.3 698.4L756.1 699.8 758.8 701.0 761.6 702.1 763.4 702.7M794.3 715.7L797.2 716.8 799.9 718.0 802.6 719.3 804.4 720.4M821.8 733.6L824.4 735.1 827.1 736.4 829.8 737.6 831.8 738.3M834.1 754.2L831.3 755.3 828.5 756.5 825.7 757.7 824.1 758.4"/>
<path stroke-width="4.8" d="M539.2 375.7L538.3 378.6 537.4 381.5 536.7 384.4 536.5 385.4 536.3 386.4M535.4 411.3L536.0 413.1 536.5 414.0M759.4 638.2L760.3 641.1 761.2 644.0 761.9 646.9 762.6 649.8 763.4 652.7 764.2 655.6 765.1 658.5 766.1 661.3 766.4 662.3M850.2 735.3L853.1 736.2 856.0 737.1 858.9 738.0 861.7 738.9 863.6 739.6 864.5 739.9M893.2 761.6L894.2 764.8 894.4 765.8 894.6 766.7M891.5 769.0L888.0 770.0 885.2 770.9 882.3 771.8 879.4 772.7 876.4 773.5 873.5 774.3 872.6 774.7M442.2 277.5L441.3 280.4 440.4 283.2 439.4 286.1 438.9 287.5M437.7 318.5L438.8 321.3 439.7 324.2 440.6 327.1 441.1 328.6M482.3 387.1L483.3 389.9 484.0 392.8 484.7 395.7 484.9 397.0M485.7 400.7L486.4 403.6 487.1 406.6 488.0 409.3 488.8 410.8M744.1 662.4L742.8 665.1 741.8 667.9 741.0 670.8 740.6 672.3M767.0 703.9L769.9 704.7 772.8 705.7 775.6 706.7 776.9 707.3M846.7 749.8L846.3 751.2 843.3 751.9 839.5 752.5 837.8 752.9M820.4 760.1L818.1 761.9 816.3 764.6 816.3 767.3 817.7 769.6"/>
<path stroke-width="5.0" d="M536.5 385.4L536.0 388.3 535.5 391.3 535.1 394.3 534.9 397.3 534.9 400.3 535.0 403.4 535.1 406.4 535.2 409.4 535.4 411.3 535.7 412.2M894.4 765.8L894.6 767.4 894.3 767.9M739.8 676.0L739.4 678.9 739.0 681.9 738.8 684.9 738.9 685.9"/>
</g>
<path d="M207.5 802v-10M207.5 68v10M311.5 802v-10M311.5 68v10M414.5 802v-10M414.5 68v10M517.5 802v-10M517.5 68v10M621.5 802v-10M621.5 68v10M724.5 802v-10M724.5 68v10M827.5 802v-10M827.5 68v10M931.5 802v-10M931.5 68v10M1034.5 802v-10M1034.5 68v10M156 92.5h11M1087 92.5h-11M156 133.5h11M1087 133.5h-11M156 169.5h11M1087 169.5h-11M156 199.5h11M1087 199.5h-11M156 226.5h11M1087 226.5h-11M156 251.5h11M1087 251.5h-11M156 410.5h11M1087 410.5h-11M156 503.5h11M1087 503.5h-11M156 569.5h11M1087 569.5h-11M156 620.5h11M1087 620.5h-11M156 662.5h11M1087 662.5h-11M156 697.5h10M1087 697.5h-10M156 727.5h10M1087 727.5h-10M156 754.5h10M1087 754.5h-10M156 779.5h10M1087 779.5h-10" stroke="#000" stroke-width="1" fill="none" shape-rendering="crispEdges"/>
<rect x="156.5" y="68.5" width="930.0" height="733.0" fill="none" stroke="#000" stroke-width="1" shape-rendering="crispEdges"/>
<text class="tk" x="128.34" y="100.50" textLength="21.93" lengthAdjust="spacingAndGlyphs">50</text>
<text class="tk" x="128.34" y="141.50" textLength="21.93" lengthAdjust="spacingAndGlyphs">60</text>
<text class="tk" x="128.34" y="177.50" textLength="21.93" lengthAdjust="spacingAndGlyphs">70</text>
<text class="tk" x="128.34" y="207.50" textLength="21.93" lengthAdjust="spacingAndGlyphs">80</text>
<text class="tk" x="128.34" y="234.50" textLength="21.93" lengthAdjust="spacingAndGlyphs">90</text>
<text class="tk" x="119.33" y="259.50" textLength="30.27" lengthAdjust="spacingAndGlyphs">100</text>
<text class="tk" x="119.33" y="418.50" textLength="30.27" lengthAdjust="spacingAndGlyphs">200</text>
<text class="tk" x="119.33" y="511.50" textLength="30.27" lengthAdjust="spacingAndGlyphs">300</text>
<text class="tk" x="120.40" y="577.50" textLength="29.19" lengthAdjust="spacingAndGlyphs">400</text>
<text class="tk" x="119.33" y="628.50" textLength="30.27" lengthAdjust="spacingAndGlyphs">500</text>
<text class="tk" x="119.33" y="670.50" textLength="30.27" lengthAdjust="spacingAndGlyphs">600</text>
<text class="tk" x="119.33" y="705.50" textLength="30.27" lengthAdjust="spacingAndGlyphs">700</text>
<text class="tk" x="119.33" y="735.50" textLength="30.27" lengthAdjust="spacingAndGlyphs">800</text>
<text class="tk" x="119.33" y="762.50" textLength="30.27" lengthAdjust="spacingAndGlyphs">900</text>
<text class="tk" x="109.94" y="787.50" textLength="40.14" lengthAdjust="spacingAndGlyphs">1000</text>
<text class="tk" x="189.59" y="829.50" textLength="27.25" lengthAdjust="spacingAndGlyphs">-40</text>
<text class="tk" x="293.59" y="829.50" textLength="27.25" lengthAdjust="spacingAndGlyphs">-30</text>
<text class="tk" x="396.59" y="829.50" textLength="27.25" lengthAdjust="spacingAndGlyphs">-20</text>
<text class="tk" x="499.59" y="829.50" textLength="27.25" lengthAdjust="spacingAndGlyphs">-10</text>
<text class="tk" x="615.27" y="829.50" textLength="9.71" lengthAdjust="spacingAndGlyphs">0</text>
<text class="tk" x="713.62" y="829.50" textLength="20.37" lengthAdjust="spacingAndGlyphs">10</text>
<text class="tk" x="815.97" y="829.50" textLength="21.37" lengthAdjust="spacingAndGlyphs">20</text>
<text class="tk" x="919.97" y="829.50" textLength="21.37" lengthAdjust="spacingAndGlyphs">30</text>
<text class="tk" x="1024.10" y="829.50" textLength="20.18" lengthAdjust="spacingAndGlyphs">40</text>
<text class="tk" x="1105.45" y="355.70" textLength="29.74" lengthAdjust="spacingAndGlyphs">151</text>
<text class="tk" x="1105.45" y="394.30" textLength="29.74" lengthAdjust="spacingAndGlyphs">180</text>
<text class="tk" x="1105.45" y="407.00" textLength="29.74" lengthAdjust="spacingAndGlyphs">190</text>
<text class="tk" x="1105.45" y="420.30" textLength="29.74" lengthAdjust="spacingAndGlyphs">200</text>
<text class="tk" x="1105.45" y="433.00" textLength="29.74" lengthAdjust="spacingAndGlyphs">212</text>
<text class="tk" x="1105.45" y="445.00" textLength="29.74" lengthAdjust="spacingAndGlyphs">223</text>
<text class="tk" x="1105.45" y="724.00" textLength="29.74" lengthAdjust="spacingAndGlyphs">753</text>
<text class="lb" x="546.00" y="855.70" textLength="148.47" lengthAdjust="spacingAndGlyphs">Temperature (C)</text>
<text class="lb" transform="translate(95.8 500.20) rotate(-90)" x="-0.99" y="0" textLength="130.02" lengthAdjust="spacingAndGlyphs">Pressure (mb)</text>
<text y="51.7" font-size="26.5" stroke="#000" stroke-width="0.4"><tspan x="222.11" textLength="162.70" lengthAdjust="spacingAndGlyphs">Scanning-HIS</tspan> <tspan x="390.76" textLength="78.18" lengthAdjust="spacingAndGlyphs">RT-DR</tspan> <tspan x="472.75" textLength="64.51" lengthAdjust="spacingAndGlyphs">Mean</tspan> <tspan x="543.98" textLength="105.61" lengthAdjust="spacingAndGlyphs">Retrieval</tspan> <tspan x="655.80" textLength="8.11" lengthAdjust="spacingAndGlyphs">:</tspan> <tspan x="667.78" textLength="141.36" lengthAdjust="spacingAndGlyphs">22-Sep-2012</tspan> <tspan x="813.80" textLength="93.25" lengthAdjust="spacingAndGlyphs">21:28:46</tspan> <tspan x="912.34" textLength="8.45" lengthAdjust="spacingAndGlyphs">-</tspan> <tspan x="926.41" textLength="92.13" lengthAdjust="spacingAndGlyphs">21:29:45</tspan></text>
</svg></body></html>
